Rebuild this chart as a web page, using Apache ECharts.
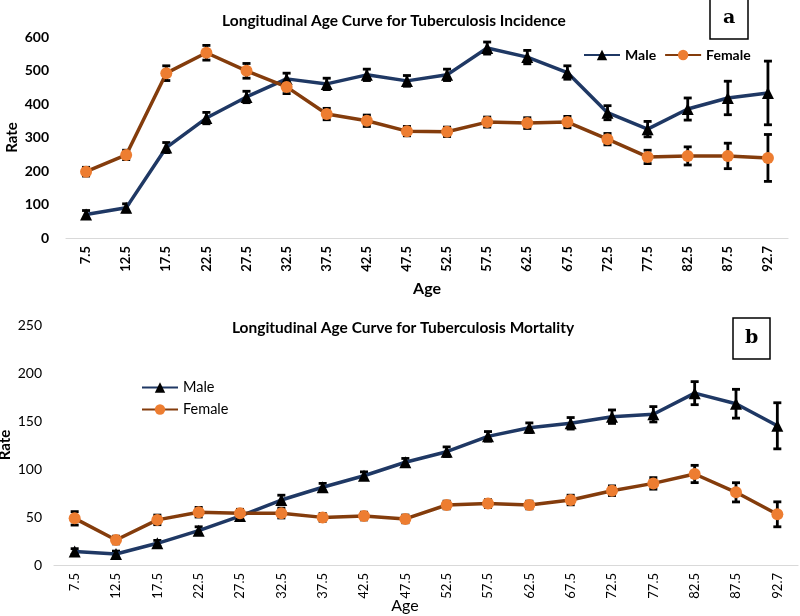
<!DOCTYPE html>
<html>
<head>
<meta charset="utf-8">
<script src="https://cdn.jsdelivr.net/npm/echarts@6/dist/echarts.min.js"></script>
<style>
  html, body { margin: 0; padding: 0; background: #fff; }
  #container { width: 800px; height: 616px; }
</style>
</head>
<body>
<div id="container"></div>
<script>
var dom = document.getElementById("container");
var myChart = echarts.init(dom);
var option;

// age groups (shared by both panels)
var ages = ["7.5", "12.5", "17.5", "22.5", "27.5", "32.5", "37.5", "42.5", "47.5",
  "52.5", "57.5", "62.5", "67.5", "72.5", "77.5", "82.5", "87.5", "92.7"];

// panel a - incidence
var incMale = [70, 90, 270, 358, 421, 475, 460, 487, 469, 487, 567, 540, 494, 374, 325, 385, 418, 433];
var incMaleErr = [12, 12, 15, 17, 17, 17, 17, 17, 16, 17, 18, 20, 20, 21, 23, 33, 50, 95];
var incFemale = [198, 248, 492, 553, 499, 451, 370, 350, 319, 317, 346, 343, 346, 295, 242, 245, 245, 239];
var incFemaleErr = [13, 14, 22, 22, 22, 20, 17, 17, 14, 14, 15, 16, 17, 17, 20, 27, 38, 70];

// panel b - mortality
var morMale = [14, 11.5, 22.6, 35.8, 51, 67.7, 81, 93, 107, 118, 134, 143, 147.6, 154.5, 157, 179, 168, 145];
var morMaleErr = [3, 3, 3, 4, 4, 5, 4, 4, 4, 5, 5, 5, 6, 7, 8, 12, 15, 24];
var morFemale = [48.6, 26, 47, 55, 54, 54, 49.6, 51, 48, 62.5, 64, 62.5, 67.7, 77.4, 85, 94.8, 75.7, 52.8];
var morFemaleErr = [7, 4, 5, 5, 4, 5, 4, 4, 4, 4, 4, 4, 5, 5, 6, 9, 10, 13];

var maleLine = "#1f3864";
var femaleLine = "#843c0c";
var femaleDot = "#ed7d31";
var fontFam = "Lato, 'Open Sans', sans-serif";

function errData(vals, errs) {
  var out = [];
  for (var i = 0; i < vals.length; i++) {
    out.push([i, vals[i] - errs[i], vals[i] + errs[i]]);
  }
  return out;
}

function errSeries(name, vals, errs, idx) {
  return {
    name: name,
    type: "custom",
    xAxisIndex: idx,
    yAxisIndex: idx,
    z: 1,
    silent: true,
    encode: { x: 0, y: [1, 2] },
    data: errData(vals, errs),
    renderItem: function (params, api) {
      var lo = api.coord([api.value(0), api.value(1)]);
      var hi = api.coord([api.value(0), api.value(2)]);
      var w = 4;
      var st = { stroke: "#000", lineWidth: 2.8 };
      return {
        type: "group",
        children: [
          { type: "line", shape: { x1: lo[0], y1: lo[1], x2: hi[0], y2: hi[1] }, style: st },
          { type: "line", shape: { x1: lo[0] - w, y1: lo[1], x2: lo[0] + w, y2: lo[1] }, style: st },
          { type: "line", shape: { x1: hi[0] - w, y1: hi[1], x2: hi[0] + w, y2: hi[1] }, style: st }
        ]
      };
    }
  };
}

function maleSeries(vals, idx) {
  return {
    name: "Male",
    type: "line",
    xAxisIndex: idx,
    yAxisIndex: idx,
    z: 3,
    data: vals,
    symbol: "triangle",
    symbolSize: 12,
    lineStyle: { color: maleLine, width: 3.5 },
    itemStyle: { color: "#000", borderWidth: 0 },
    color: maleLine
  };
}

function femaleSeries(vals, idx) {
  return {
    name: "Female",
    type: "line",
    xAxisIndex: idx,
    yAxisIndex: idx,
    z: 3,
    data: vals,
    symbol: "circle",
    symbolSize: 12,
    lineStyle: { color: femaleLine, width: 3.5 },
    itemStyle: { color: femaleDot, borderWidth: 0 },
    color: femaleLine
  };
}

function xAxisFor(idx, bold, gap, shift) {
  return {
    type: "category",
    gridIndex: idx,
    data: ages,
    name: "Age",
    nameLocation: "middle",
    nameGap: gap,
    nameMoveOverlap: false,
    nameTextStyle: { fontFamily: fontFam, fontWeight: bold ? "bold" : "normal", fontSize: 16, color: "#000", padding: [0, shift, 0, 0] },
    axisLine: { lineStyle: { color: "#d9d9d9", width: 1.2 } },
    axisTick: { show: false },
    axisLabel: { rotate: 90, fontFamily: fontFam, fontWeight: bold ? "bold" : "normal", fontSize: 13, color: "#000", margin: 8, interval: 0 },
    splitLine: { show: false }
  };
}

function yAxisFor(idx, max, step, bold, gap, margin) {
  return {
    type: "value",
    gridIndex: idx,
    min: 0,
    max: max,
    interval: step,
    name: "Rate",
    nameLocation: "middle",
    nameGap: gap,
    nameMoveOverlap: false,
    nameTextStyle: { fontFamily: fontFam, fontWeight: "bold", fontSize: 15, color: "#000" },
    axisLine: { show: false },
    axisTick: { show: false },
    axisLabel: { fontFamily: fontFam, fontWeight: bold ? "bold" : "normal", fontSize: 14, color: "#000", margin: margin },
    splitLine: { show: false }
  };
}

option = {
  animation: false,
  backgroundColor: "#fff",
  title: [
    {
      text: "Longitudinal Age Curve for Tuberculosis Incidence",
      left: 389, top: 8, textAlign: "center",
      textStyle: { fontFamily: fontFam, fontWeight: "bold", fontSize: 15.5, color: "#000" }
    },
    {
      text: "Longitudinal Age Curve for Tuberculosis Mortality",
      left: 398, top: 315, textAlign: "center",
      textStyle: { fontFamily: fontFam, fontWeight: "bold", fontSize: 15.5, color: "#000" }
    },
    {
      text: "a",
      left: 710, top: -2,
      padding: [11, 13, 11, 13],
      borderColor: "#000", borderWidth: 1.5,
      textStyle: { fontFamily: "'DejaVu Serif', 'Liberation Serif', serif", fontWeight: "bold", fontSize: 19, color: "#000" }
    },
    {
      text: "b",
      left: 733, top: 318,
      padding: [11, 12, 11, 12],
      borderColor: "#000", borderWidth: 1.5,
      textStyle: { fontFamily: "'DejaVu Serif', 'Liberation Serif', serif", fontWeight: "bold", fontSize: 19, color: "#000" }
    }
  ],
  legend: [
    {
      data: ["Male", "Female"],
      left: 583, top: 48,
      padding: 0,
      orient: "horizontal",
      itemWidth: 36, itemHeight: 13, itemGap: 8,
      textStyle: { fontFamily: fontFam, fontWeight: "bold", fontSize: 14, color: "#000" }
    },
    {
      data: ["Male", "Female"],
      left: 141, top: 380,
      padding: 0,
      orient: "vertical",
      itemWidth: 36, itemHeight: 13, itemGap: 7,
      textStyle: { fontFamily: fontFam, fontSize: 14.5, color: "#000" }
    }
  ],
  grid: [
    { left: 66, right: 12, top: 37, height: 201, outerBoundsMode: "none", containLabel: false },
    { left: 54, right: 2, top: 325, height: 240, outerBoundsMode: "none", containLabel: false }
  ],
  xAxis: [xAxisFor(0, true, 43, 0), xAxisFor(1, false, 33, 42)],
  yAxis: [yAxisFor(0, 600, 100, true, 46, 17), yAxisFor(1, 250, 50, false, 41, 12)],
  series: [
    errSeries("errIncM", incMale, incMaleErr, 0),
    errSeries("errIncF", incFemale, incFemaleErr, 0),
    maleSeries(incMale, 0),
    femaleSeries(incFemale, 0),
    errSeries("errMorM", morMale, morMaleErr, 1),
    errSeries("errMorF", morFemale, morFemaleErr, 1),
    maleSeries(morMale, 1),
    femaleSeries(morFemale, 1)
  ]
};

myChart.setOption(option);
</script>
</body>
</html>
